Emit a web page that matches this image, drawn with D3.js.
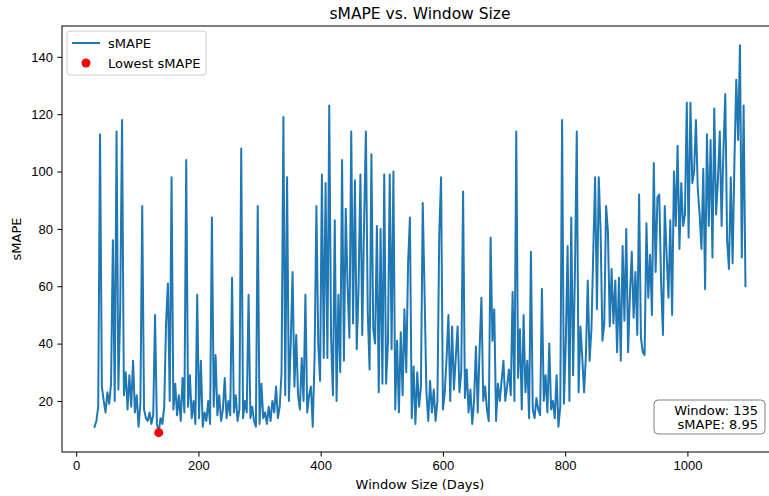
<!DOCTYPE html>
<html>
<head>
<title>sMAPE vs. Window Size</title>
<meta charset="utf-8">
<style type="text/css">
body { margin: 0; background: #fff; }
svg { display: block; font-family: "DejaVu Sans", sans-serif; }
.axis text { font-size: 13px; fill: #000; }
.axis path, .axis line { stroke: #000; stroke-width: 1; }
</style>
</head>
<body>
<svg id="chart"></svg>

<script src="https://d3js.org/d3.v7.min.js"></script>
<script type="text/javascript">
const WIDTH = 769;
const HEIGHT = 496;
const MARGIN = {top: 26, right: -9, bottom: 44, left: 62};

// window sizes sampled every 3 days, first one is 30
const WINDOW_START = 30;
const WINDOW_STEP = 3;

const smape = [
    11, 13, 18, 113, 25, 20, 16, 23, 19, 26,
    76, 20, 114, 24, 52, 118, 22, 30, 17, 29,
    18, 34, 16, 22, 11, 19, 88, 17, 14, 13,
    16, 12, 15, 50, 12, 8.95, 14, 12, 18, 47,
    61, 20, 98, 17, 26, 15, 22, 13, 28, 16,
    104, 18, 29, 14, 20, 12, 57, 14, 34, 11,
    16, 13, 20, 12, 84, 18, 36, 15, 22, 13,
    17, 28, 14, 20, 15, 63, 16, 22, 13, 17,
    108, 14, 20, 16, 57, 14, 18, 13, 11, 88,
    12, 26, 14, 16, 12, 18, 13, 20, 16, 25,
    14, 18, 30, 119, 22, 98, 20, 40, 65, 25,
    43, 22, 17, 35, 20, 57, 16, 22, 25, 11,
    35, 88, 40, 27, 99, 35, 96, 35, 123, 42,
    22, 83, 20, 57, 30, 104, 34, 87, 60, 42,
    114, 47, 97, 38, 60, 99, 43, 82, 114, 51,
    31, 106, 45, 40, 81, 23, 80, 26, 99, 26,
    40, 99, 38, 100, 17, 41, 16, 44, 22, 52,
    30, 68, 84, 14, 32, 12, 30, 18, 25, 89,
    57, 23, 13, 27, 16, 24, 13, 20, 78, 98,
    17, 23, 35, 50, 20, 46, 24, 35, 46, 23,
    30, 93, 21, 31, 16, 24, 12, 20, 39, 16,
    38, 56, 20, 25, 17, 13, 77, 41, 52, 13,
    26, 20, 27, 34, 20, 25, 31, 22, 58, 20,
    114, 28, 45, 17, 50, 23, 34, 14, 72, 17,
    14, 21, 17, 15, 59, 20, 29, 16, 40, 17,
    20, 14, 29, 11, 18, 118, 19, 40, 74, 20,
    84, 29, 65, 114, 23, 46, 35, 23, 36, 62,
    34, 45, 72, 98, 52, 98, 79, 41, 47, 88,
    79, 46, 66, 47, 62, 37, 63, 34, 74, 48,
    80, 37, 57, 72, 49, 65, 43, 92, 42, 37,
    36, 82, 56, 71, 50, 103, 65, 91, 92, 61,
    43, 88, 71, 56, 83, 50, 100, 81, 109, 73,
    96, 81, 85, 124, 77, 124, 96, 100, 118, 94,
    85, 73, 101, 59, 113, 81, 111, 70, 122, 85,
    97, 114, 81, 108, 127, 76, 66, 98, 68, 104,
    132, 111, 144, 70, 123, 60
];

const BEST_WINDOW = 135;
const BEST_SMAPE = 8.95;

const xTicks = [0, 200, 400, 600, 800, 1000];
const yTicks = [20, 40, 60, 80, 100, 120, 140];

const LINE_COLOR = "#1f77b4";
const FONT = 13;

const data = smape.map((v, i) => ({window: WINDOW_START + i * WINDOW_STEP, smape: v}));

const svg = d3.select("#chart")
    .attr("width", WIDTH)
    .attr("height", HEIGHT)
    .style("overflow", "hidden");

// matplotlib style 5% padding round the data
const [wMin, wMax] = d3.extent(data, d => d.window);
const [sMin, sMax] = d3.extent(data, d => d.smape);
const wPad = (wMax - wMin) * 0.05;
const sPad = (sMax - sMin) * 0.05;

const x = d3.scaleLinear()
    .domain([wMin - wPad, wMax + wPad])
    .range([MARGIN.left, WIDTH - MARGIN.right]);
const y = d3.scaleLinear()
    .domain([sMin - sPad, sMax + sPad])
    .range([HEIGHT - MARGIN.bottom, MARGIN.top]);

// data line
const line = d3.line()
    .x(d => x(d.window))
    .y(d => y(d.smape));

svg.append("path").datum(data)
    .attr("fill", "none")
    .attr("stroke", LINE_COLOR)
    .attr("stroke-width", 2)
    .attr("stroke-linejoin", "round")
    .attr("stroke-linecap", "square")
    .attr("d", line);

// lowest point
svg.append("circle")
    .attr("cx", x(BEST_WINDOW))
    .attr("cy", y(BEST_SMAPE))
    .attr("r", 4.5)
    .attr("fill", "red");

// axes
svg.append("g")
    .attr("class", "axis")
    .attr("transform", `translate(0,${HEIGHT - MARGIN.bottom})`)
    .call(d3.axisBottom(x).tickValues(xTicks).tickFormat(d3.format("d"))
        .tickSize(4.6).tickPadding(4.5).tickSizeOuter(0))
    .call(g => g.select(".domain").remove());
svg.append("g")
    .attr("class", "axis")
    .attr("transform", `translate(${MARGIN.left},0)`)
    .call(d3.axisLeft(y).tickValues(yTicks).tickFormat(d3.format("d"))
        .tickSize(4.6).tickPadding(4.5).tickSizeOuter(0))
    .call(g => g.select(".domain").remove());

// frame
svg.append("rect")
    .attr("x", MARGIN.left)
    .attr("y", MARGIN.top)
    .attr("width", WIDTH - MARGIN.right - MARGIN.left)
    .attr("height", HEIGHT - MARGIN.bottom - MARGIN.top)
    .attr("fill", "none")
    .attr("stroke", "#000")
    .attr("stroke-width", 1);

// titles
const plotMid = (MARGIN.left + WIDTH - MARGIN.right) / 2;
svg.append("text")
    .attr("x", plotMid)
    .attr("y", 19)
    .attr("text-anchor", "middle")
    .attr("font-size", 15.5)
    .text("sMAPE vs. Window Size");
svg.append("text")
    .attr("x", plotMid)
    .attr("y", 489)
    .attr("text-anchor", "middle")
    .attr("font-size", FONT)
    .text("Window Size (Days)");
svg.append("text")
    .attr("transform", `translate(21,${(MARGIN.top + HEIGHT - MARGIN.bottom) / 2}) rotate(-90)`)
    .attr("text-anchor", "middle")
    .attr("font-size", FONT)
    .text("sMAPE");

// legend
const legend = svg.append("g").attr("transform", `translate(${MARGIN.left + 5},${MARGIN.top + 5})`);
legend.append("rect")
    .attr("width", 139)
    .attr("height", 44)
    .attr("rx", 3)
    .attr("fill", "#fff")
    .attr("fill-opacity", 0.8)
    .attr("stroke", "#ccc")
    .attr("stroke-width", 1);
legend.append("line")
    .attr("x1", 5).attr("x2", 33)
    .attr("y1", 12).attr("y2", 12)
    .attr("stroke", LINE_COLOR)
    .attr("stroke-width", 2);
legend.append("text")
    .attr("x", 41).attr("y", 16.5)
    .attr("font-size", FONT)
    .text("sMAPE");
legend.append("circle")
    .attr("cx", 19).attr("cy", 32)
    .attr("r", 4.5)
    .attr("fill", "red");
legend.append("text")
    .attr("x", 41).attr("y", 36.5)
    .attr("font-size", FONT)
    .text("Lowest sMAPE");

// annotation box
const note = svg.append("g").attr("transform", "translate(654,400)");
note.append("rect")
    .attr("width", 111)
    .attr("height", 34)
    .attr("rx", 4)
    .attr("fill", "#fff")
    .attr("stroke", "#808080")
    .attr("stroke-width", 1);
note.append("text")
    .attr("x", 104).attr("y", 14.5)
    .attr("text-anchor", "end")
    .attr("font-size", FONT)
    .text(`Window: ${BEST_WINDOW}`);
note.append("text")
    .attr("x", 104).attr("y", 28.5)
    .attr("text-anchor", "end")
    .attr("font-size", FONT)
    .text(`sMAPE: ${BEST_SMAPE}`);
</script>
</body>
</html>
